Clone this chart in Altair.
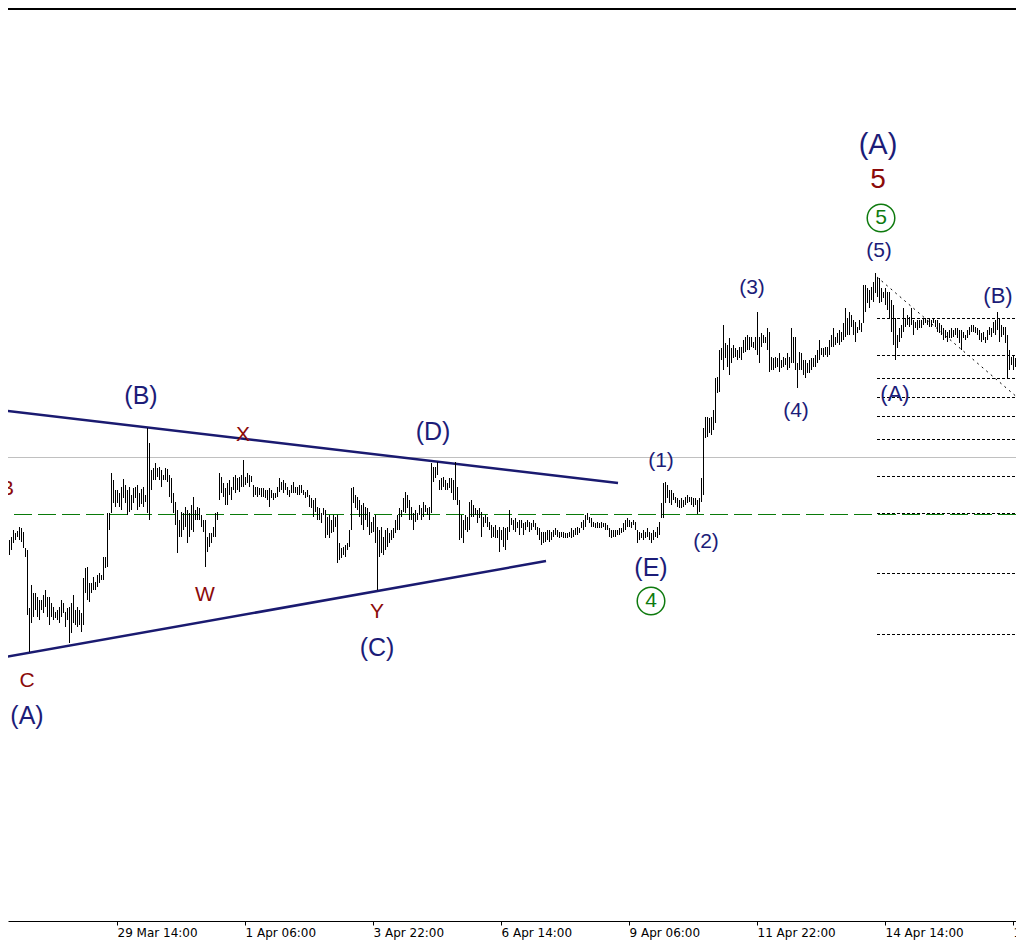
import altair as alt
import pandas as pd

# ---- hourly bars (high / low), one bar per hour starting 27 Mar 2018 08:00 UTC ----
highs = [
    460,463,470,467,469,473,472,468,452,450,392,415,407,407,403,400,400,405,410,403,
    403,397,393,388,390,393,400,397,388,392,393,397,405,390,393,390,387,422,432,433,
    417,417,423,418,425,427,425,443,443,487,487,527,520,510,510,507,513,521,515,510,
    513,505,512,513,515,507,511,513,505,572,557,530,532,537,532,533,530,525,532,531,
    525,522,507,498,490,480,488,487,493,490,487,495,503,490,493,492,485,480,480,463,
    467,467,473,487,488,527,523,517,512,517,520,513,523,525,522,523,525,540,523,527,
    525,524,515,513,513,512,512,512,510,510,512,510,507,507,513,522,518,520,517,513,
    510,515,518,513,513,515,515,510,508,510,505,502,500,502,493,492,487,492,490,483,
    485,480,485,483,485,457,452,453,455,457,470,512,513,505,503,500,495,497,493,492,
    488,478,483,485,473,470,473,463,470,472,467,470,472,480,485,492,490,502,508,505,
    500,493,487,490,487,495,492,498,495,492,493,537,533,533,538,520,522,523,520,517,
    522,522,520,538,513,500,485,480,485,483,498,500,495,492,490,492,488,483,485,483,
    478,475,473,475,470,473,470,473,472,473,490,482,480,482,478,480,480,477,478,480,
    478,477,480,477,473,472,468,468,468,470,470,468,470,472,470,468,468,468,467,467,
    468,472,470,472,473,472,478,480,485,487,483,482,478,477,478,477,478,477,477,475,
    472,470,470,470,470,472,472,477,480,482,480,478,480,478,470,468,467,470,468,472,
    468,467,470,468,473,478,497,517,518,515,510,510,507,503,502,500,502,500,503,505,
    503,503,502,502,500,502,522,572,583,583,582,583,590,622,623,650,652,675,657,655,
    662,652,655,652,650,653,653,660,663,665,663,663,658,663,688,663,667,665,663,672,
    668,643,642,643,642,647,640,643,642,647,643,672,663,663,637,648,647,640,640,637,
    640,642,642,645,650,660,652,652,653,653,660,665,672,663,667,670,668,677,692,682,
    688,685,680,678,673,680,677,715,715,712,710,713,718,727,722,722,712,708,712,708,
    708,700,695,682,665,672,675,692,682,685,683,692,680,678,680,680,680,682,682,680,
    682,680,682,680,680,677,675,672,670,668,670,672,670,672,672,670,670,668,665,670,
    673,675,675,673,672,670,667,668,663,670,673,672,678,680,688,682,675,673,673,665,
    650,643,645,642,642,640,640,633,
]
lows = [
    445,450,457,460,463,460,458,452,443,385,348,377,383,390,383,380,390,387,393,383,
    375,383,380,382,380,377,383,387,373,380,357,367,377,375,373,375,368,375,407,400,
    398,407,410,410,413,417,420,420,432,433,470,487,497,493,497,493,490,502,497,485,
    488,490,497,502,490,493,496,493,498,487,480,510,520,520,523,520,513,520,520,518,
    503,497,487,475,447,463,463,470,473,457,463,470,468,480,480,480,473,468,433,448,
    453,457,463,463,480,500,507,503,495,495,505,500,510,507,510,508,513,513,515,517,
    513,518,503,505,503,505,503,503,502,500,493,502,500,502,503,508,510,507,510,505,
    503,507,507,507,505,505,507,505,502,503,493,492,483,488,480,480,477,485,462,465,
    462,467,468,473,437,440,442,445,443,450,453,470,497,492,490,483,475,470,480,473,
    465,467,468,457,410,443,447,445,450,453,457,460,462,467,470,470,483,488,487,492,
    480,480,470,478,480,485,480,483,488,485,480,487,518,522,525,510,510,513,510,510,
    512,507,500,500,495,460,462,457,470,468,470,483,483,485,477,482,463,473,477,473,
    470,462,463,462,462,448,460,453,450,460,468,475,470,468,472,465,472,465,470,473,
    468,470,473,470,465,460,455,457,458,460,458,460,463,465,463,462,463,462,462,462,
    463,462,463,465,465,467,472,470,473,480,477,473,473,472,472,472,472,473,470,470,
    463,462,463,463,465,465,467,468,470,473,473,472,475,470,457,460,462,460,462,463,
    460,457,460,463,462,465,482,482,497,502,497,495,500,497,493,492,492,493,495,497,
    498,495,493,495,486,488,498,505,562,563,567,565,570,577,607,608,640,630,642,633,
    625,637,642,643,640,642,640,647,648,650,650,653,652,650,645,637,653,657,657,650,
    628,630,630,632,633,628,632,633,635,630,632,637,637,630,612,630,630,625,622,627,
    627,630,633,633,637,640,645,643,645,643,645,653,653,655,657,655,658,660,663,665,
    665,673,665,658,667,670,668,677,688,697,692,700,698,707,703,697,698,702,695,690,
    682,668,655,640,652,658,662,668,673,675,673,675,665,672,670,672,672,675,677,675,
    673,673,677,673,668,667,665,660,662,658,662,662,663,665,662,657,650,662,660,662,
    665,668,668,667,665,660,658,660,657,660,665,663,667,665,670,658,663,665,657,622,
    630,635,630,633,637,630,630,625,
]
assert len(highs) == len(lows)

first_bar = pd.Timestamp("2018-03-27 08:00:00")
bar_times = [(first_bar + pd.Timedelta(hours=i)).strftime("%Y-%m-%dT%H:%M:%SZ")
             for i in range(len(highs))]
bars = pd.DataFrame({"time": bar_times, "high": highs, "low": lows})

# ---- wave labels ----
label_text = ["(A)", "5", "(5)", "(3)", "(4)", "(B)", "(A)", "(1)", "(2)", "(E)",
              "(D)", "(C)", "Y", "X", "W", "(B)", "B", "C", "(A)", "5", "4"]
label_time = ["2018-04-14T10:30:00Z", "2018-04-14T10:30:00Z", "2018-04-14T11:00:00Z",
              "2018-04-11T19:30:00Z", "2018-04-12T17:30:00Z", "2018-04-16T22:30:00Z",
              "2018-04-14T19:00:00Z", "2018-04-09T22:00:00Z", "2018-04-10T20:30:00Z",
              "2018-04-09T17:00:00Z", "2018-04-05T04:00:00Z", "2018-04-04T00:00:00Z",
              "2018-04-04T00:00:00Z", "2018-04-01T05:00:00Z", "2018-03-31T10:00:00Z",
              "2018-03-30T02:00:00Z", "2018-03-27T07:00:00Z", "2018-03-27T17:00:00Z",
              "2018-03-27T17:00:00Z", "2018-04-14T12:00:00Z", "2018-04-09T17:00:00Z"]
label_price = [855, 820, 749, 712, 589, 704, 606, 539, 458, 432,
               568, 352, 388, 565, 405, 604, 511, 319, 284, 782, 399]
NAVY, RED, GREEN = "#1c1c78", "#8b0a0a", "#0e7a0e"
label_color = [NAVY, RED, NAVY, NAVY, NAVY, NAVY, NAVY, NAVY, NAVY, NAVY,
               NAVY, NAVY, RED, RED, RED, NAVY, RED, RED, NAVY, GREEN, GREEN]
label_size = [29, 28, 21, 21, 21, 22, 22, 21, 21, 25,
              25, 25, 21, 21, 21, 25, 21, 21, 25, 21, 21]
labels = pd.DataFrame({"text": label_text, "time": label_time, "price": label_price,
                       "color": label_color, "size": label_size})

circle_time = ["2018-04-14T12:00:00Z", "2018-04-09T17:00:00Z"]
circle_price = [782, 399]
circles = pd.DataFrame({"time": circle_time, "price": circle_price})

# ---- triangle trend lines ----
trend_t1 = ["2018-03-27T03:30:00Z", "2018-03-27T03:30:00Z"]
trend_p1 = [590, 342]
trend_t2 = ["2018-04-09T00:30:00Z", "2018-04-07T12:30:00Z"]
trend_p2 = [517, 439]
trend = pd.DataFrame({"t1": trend_t1, "p1": trend_p1, "t2": trend_t2, "p2": trend_p2})

# ---- fibonacci levels and diagonal ----
fib_levels = [682, 645, 622, 603, 584, 561, 524, 487, 427, 366]
fib_start = "2018-04-14T10:00:00Z"
fib_end = "2018-04-17T12:00:00Z"
fib = pd.DataFrame({"price": fib_levels, "t1": [fib_start] * len(fib_levels),
                    "t2": [fib_end] * len(fib_levels)})
diag = pd.DataFrame({"t1": [fib_start], "p1": [723], "t2": [fib_end], "p2": [596]})

gray_level = [543]
green_level = [486]

xs = alt.Scale(type="utc",
               domain=[alt.DateTime(year=2018, month=3, date=27, hours=7, minutes=30, utc=True),
                       alt.DateTime(year=2018, month=4, date=17, hours=7, minutes=30, utc=True)])
ys = alt.Scale(domain=[79, 992], nice=False, zero=False)

tick_values = [alt.DateTime(year=2018, month=m, date=d, hours=h, utc=True) for (m, d, h) in
               [(3, 29, 14), (4, 1, 6), (4, 3, 22), (4, 6, 14), (4, 9, 6), (4, 11, 22),
                (4, 14, 14), (4, 17, 6)]]
x_axis = alt.Axis(values=tick_values, labelExpr="utcFormat(datum.value, '%-d %b %H:%M')",
                  title=None, grid=False, labelAlign="left", labelFlush=False,
                  labelOverlap=False, tickSize=4, labelPadding=2, domainColor="black",
                  tickColor="black", labelColor="black", labelFont="DejaVu Sans",
                  labelFontSize=12)


def X(field):
    return alt.X(field, type="temporal", scale=xs, axis=x_axis)


bar_layer = alt.Chart(bars).mark_rule(color="black", strokeWidth=1, xOffset=0.5).encode(
    x=X("time"), y=alt.Y("high:Q", scale=ys, axis=None), y2="low:Q")

gray_layer = alt.Chart(pd.DataFrame({"price": gray_level})).mark_rule(
    color="#c0c0c0", strokeWidth=1, yOffset=0.5).encode(y=alt.Y("price:Q", scale=ys, axis=None))

green_layer = alt.Chart(pd.DataFrame({"price": green_level})).mark_rule(
    color="#0a7a0a", strokeWidth=1, strokeDash=[18, 6], yOffset=0.5).encode(
    y=alt.Y("price:Q", scale=ys, axis=None))

fib_layer = alt.Chart(fib).mark_rule(color="black", strokeWidth=1, strokeDash=[3, 2],
                                     yOffset=0.5, clip=True).encode(
    x=X("t1"), x2="t2", y=alt.Y("price:Q", scale=ys, axis=None))

diag_layer = alt.Chart(diag).mark_rule(color="black", strokeWidth=1, strokeDash=[2, 4],
                                       clip=True).encode(
    x=X("t1"), x2="t2", y=alt.Y("p1:Q", scale=ys, axis=None), y2="p2:Q")

trend_layer = alt.Chart(trend).mark_rule(color="#1a1a70", strokeWidth=2.5, clip=True).encode(
    x=X("t1"), x2="t2", y=alt.Y("p1:Q", scale=ys, axis=None), y2="p2:Q")

top_border = alt.Chart(pd.DataFrame({"price": [992]})).mark_rule(
    color="black", strokeWidth=2).encode(y=alt.value(1))

circle_layer = alt.Chart(circles).mark_point(shape="circle", filled=False, color=GREEN,
                                             strokeWidth=1.5, size=760, opacity=1).encode(
    x=X("time"), y=alt.Y("price:Q", scale=ys, axis=None))

text_layer = alt.Chart(labels).mark_text(font="Liberation Sans", align="center",
                                         baseline="middle").encode(
    x=X("time"), y=alt.Y("price:Q", scale=ys, axis=None),
    text="text:N", color=alt.Color("color:N", scale=None),
    size=alt.Size("size:Q", scale=None))

chart = alt.layer(gray_layer, green_layer, fib_layer, diag_layer, trend_layer, bar_layer,
                  top_border, circle_layer, text_layer).properties(
    width=1008, height=913,
    padding={"left": 0, "top": 0, "right": 0, "bottom": 19},
    autosize=alt.AutoSizeParams(type="none"),
).configure_view(stroke=None)

chart.save("out.html", embed_options={"renderer": "svg", "actions": False})
